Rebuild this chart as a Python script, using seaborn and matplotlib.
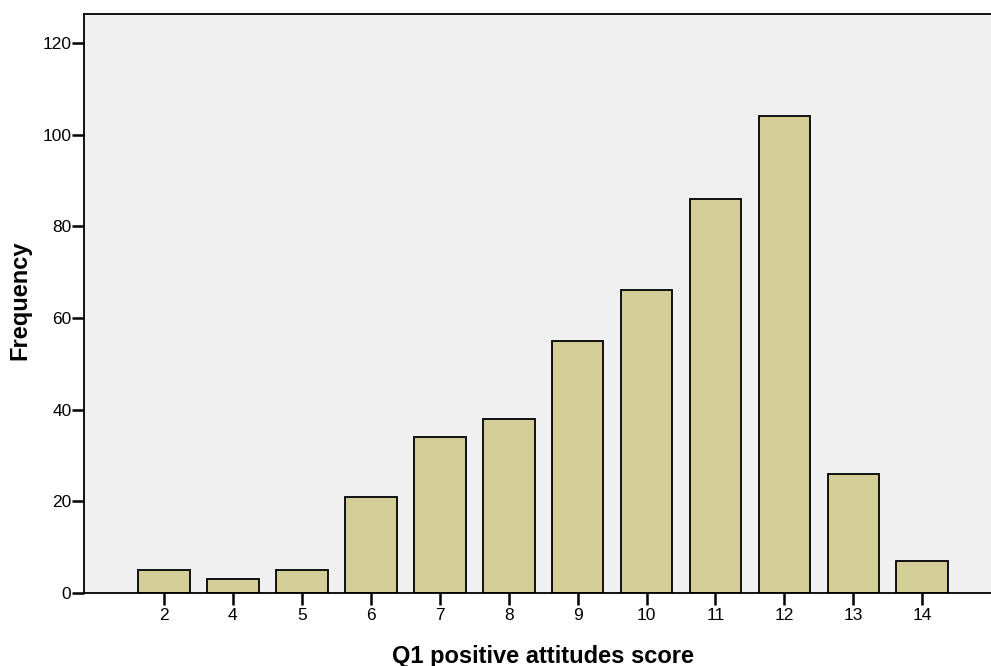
import numpy as np
import pandas as pd
import seaborn as sns
import matplotlib.pyplot as plt

scores = ["2", "4", "5", "6", "7", "8", "9", "10", "11", "12", "13", "14"]
counts = [5, 3, 5, 21, 34, 38, 55, 66, 86, 104, 26, 7]

df = pd.DataFrame({"score": scores, "freq": counts})

sns.set_style("white")
plt.rcParams['font.family'] = ['Liberation Sans', 'DejaVu Sans']
plt.rcParams['text.color'] = 'black'
plt.rcParams['xtick.color'] = 'black'
plt.rcParams['ytick.color'] = 'black'
plt.rcParams['axes.labelcolor'] = 'black'

fig = plt.figure(figsize=(9.91, 6.66), dpi=100)
# axes runs off the right edge like the cropped original
ax_w = 1.0 - 84 / 991 + 0.01
ax_h = (593 - 14) / 666
ax = fig.add_axes([84 / 991, (666 - 593) / 666, ax_w, ax_h])

sns.barplot(data=df, x="score", y="freq", order=scores, color="#D3CE97",
            saturation=1, width=0.75, edgecolor="black", linewidth=1.3, ax=ax)

ax.set_facecolor("#F0F0F0")
ax.set_xlim(-1.16, 12.14)
ax.set_ylim(0, 126.3)
ax.set_yticks([0, 20, 40, 60, 80, 100, 120])

for s in ["left", "top", "bottom"]:
    ax.spines[s].set_color("black")
    ax.spines[s].set_linewidth(1.3)
ax.spines["right"].set_visible(False)

ax.tick_params(axis="both", direction="out", length=8.5, width=1.8, color="black",
               labelsize=12.5, left=True, bottom=True)
ax.tick_params(axis="x", pad=2)
ax.tick_params(axis="y", pad=0.5)

ax.set_xlabel("Q1 positive attitudes score", fontsize=17, fontweight="bold", va="center")
ax.set_ylabel("Frequency", fontsize=17, fontweight="bold", va="center")
ax.xaxis.set_label_coords((543 - 84) / (ax_w * 991), -63 / 579)
ax.yaxis.set_label_coords(-64.5 / (ax_w * 991), 0.505)

fig.savefig("out.png", dpi=100)
